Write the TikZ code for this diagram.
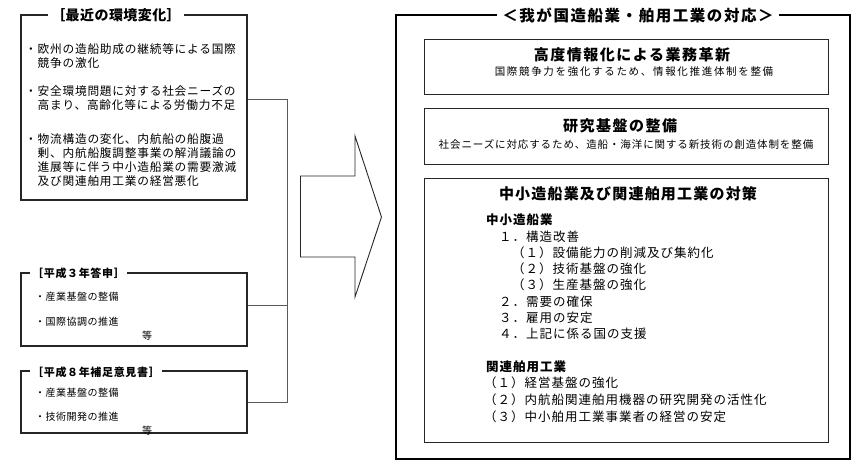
\documentclass[tikz,border=0pt]{standalone}
\usepackage{fontspec}
\setmainfont{Noto Sans CJK JP}
\newcommand\jf[3]{\fontsize{#1}{#2}\selectfont\addfontfeature{LetterSpace=#3}}
\begin{document}
\begin{tikzpicture}[x=1pt,y=-1pt,
  lbox/.style={draw=black!85, line width=1.2pt, inner sep=0pt},
  conn/.style={draw=black!65, line width=0.9pt},
  ibox/.style={draw=black!85, line width=0.9pt, inner sep=0pt},
  obox/.style={draw=black, line width=2.4pt, inner sep=0pt},
  ltitle/.style={fill=white, inner sep=3pt, font=\bfseries\jf{14}{16}{3}},
  stitle/.style={fill=white, inner sep=2pt, anchor=west, font=\bfseries\jf{11}{13}{6}},
  lbody/.style={inner sep=0pt, anchor=west, align=left, font=\jf{11.7}{14}{6.5}},
  sbody/.style={inner sep=0pt, anchor=west, font=\jf{10}{12}{5}},
  rtitle/.style={fill=white, inner sep=5pt, font=\bfseries\jf{15.5}{18}{10}},
  ititle/.style={inner sep=0pt, font=\bfseries\jf{15}{17}{10}},
  isub/.style={inner sep=0pt, font=\jf{10.5}{12}{16}},
  lhead/.style={inner sep=0pt, anchor=west, font=\bfseries\jf{12.5}{15}{8}},
  litem/.style={inner sep=0pt, anchor=west, font=\jf{12.5}{15}{8}},
  arrowshape/.style={draw=black!85, line width=0.9pt, fill=white}
]
\useasboundingbox (0,0) rectangle (863,467);
\fill[white] (0,0) rectangle (863,467);

% ---------- left column ----------
\node[lbox, minimum width=226pt, minimum height=185pt] (env) at (134,107.5) {};
\node[ltitle] (envt) at (116,15) {［最近の環境変化］};
\node[lbody] (e1) at (25,56.5) {・欧州の造船助成の継続等による国際\\　競争の激化};
\node[lbody] (e2) at (25,98) {・安全環境問題に対する社会ニーズの\\　高まり、高齢化等による労働力不足};
\node[lbody] (e3) at (25,160) {・物流構造の変化、内航船の船腹過\\　剰、内航船腹調整事業の解消議論の\\　進展等に伴う中小造船業の需要激減\\　及び関連舶用工業の経営悪化};

\node[lbox, minimum width=226pt, minimum height=73pt] (t3) at (134,309.5) {};
\node[stitle] (t3t) at (30,273) {［平成３年答申］};
\node[sbody] (t3a) at (35,297) {・産業基盤の整備};
\node[sbody] (t3b) at (35,322) {・国際協調の推進};
\node[sbody, anchor=center] (t3c) at (147,336) {等};

\node[lbox, minimum width=226pt, minimum height=62pt] (t8) at (134,402) {};
\node[stitle] (t8t) at (30,372) {［平成８年補足意見書］};
\node[sbody] (t8a) at (35,393) {・産業基盤の整備};
\node[sbody] (t8b) at (35,417) {・技術開発の推進};
\node[sbody, anchor=center] (t8c) at (147,431) {等};

% connectors
\coordinate (jt) at (287,99);
\coordinate (jm) at (287,305);
\coordinate (jb) at (287,402);
\draw[conn] (env.east |- jt) -- (jt) -- (jb) -- (t8.east);
\draw[conn] (t3.east |- jm) -- (jm);

% big arrow
\draw[arrowshape] (300.5,176) -- (355,176) -- (355,136) -- (381.5,217) -- (355,297) -- (355,257) -- (300.5,257) -- cycle;

% ---------- right column ----------
\node[obox, minimum width=454pt, minimum height=444pt] (resp) at (623,237) {};
\node[rtitle] (respt) at (638,15) {＜我が国造船業・舶用工業の対応＞};

\node[ibox, minimum width=404pt, minimum height=55pt] (b1) at (626,66.5) {};
\node[ititle] (b1t) at (632,55) {高度情報化による業務革新};
\node[isub] (b1s) at (634,72) {国際競争力を強化するため、情報化推進体制を整備};

\node[ibox, minimum width=404pt, minimum height=56pt] (b2) at (626,136) {};
\node[ititle] (b2t) at (620,126) {研究基盤の整備};
\node[isub, font=\jf{10.5}{12}{8.5}] (b2s) at (626,144) {社会ニーズに対応するため、造船・海洋に関する新技術の創造体制を整備};

\node[ibox, minimum width=404pt, minimum height=264pt] (b3) at (626,310) {};
\node[ititle, font=\bfseries\jf{15}{17}{8}] (b3t) at (628,194) {中小造船業及び関連舶用工業の対策};
\node[lhead] (h1) at (486,220) {中小造船業};
\node[litem] (h1a) at (499,237) {１．構造改善};
\node[litem] (h1a1) at (512,253) {（１）設備能力の削減及び集約化};
\node[litem] (h1a2) at (512,269) {（２）技術基盤の強化};
\node[litem] (h1a3) at (512,285) {（３）生産基盤の強化};
\node[litem] (h1b) at (499,302) {２．需要の確保};
\node[litem] (h1c) at (499,318) {３．雇用の安定};
\node[litem] (h1d) at (499,334) {４．上記に係る国の支援};
\node[lhead] (h2) at (486,367) {関連舶用工業};
\node[litem] (h2a) at (484,383) {（１）経営基盤の強化};
\node[litem] (h2b) at (484,400) {（２）内航船関連舶用機器の研究開発の活性化};
\node[litem] (h2c) at (484,417) {（３）中小舶用工業事業者の経営の安定};
\end{tikzpicture}
\end{document}
